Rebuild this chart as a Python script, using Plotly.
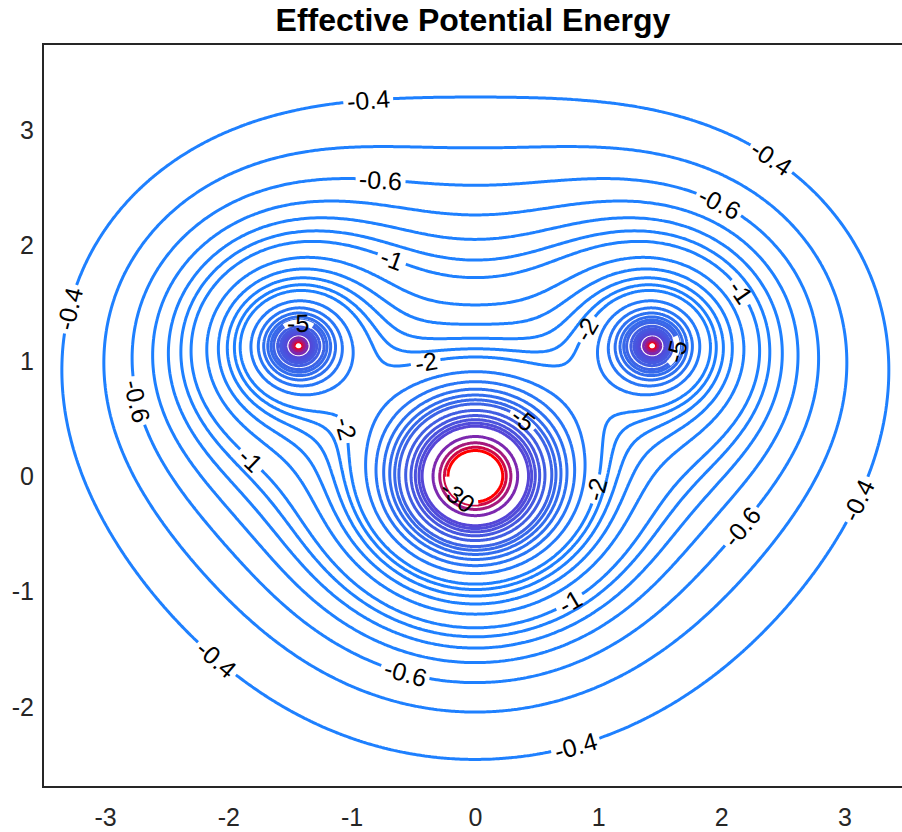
import numpy as np
import plotly.graph_objects as go

# ---------------- values ----------------
# force centres (one big centre, two small ones)
centre_x = [0.0, -1.435, 1.435]
centre_y = [0.0, 1.13, 1.13]

# points: (x, y, level)
sample_x = [0, 0, 0, 0, 0, 0, 0, 0, 0, 0, 0, 0,
            0, 0, 0, 0, 0, 0, 0,
            -3.34, -3.0, -2.77, -3.34, -3.26, 3.30,
            -0.87, 2.39, -3.24, 3.12, -2.15, 0.81,
            -0.77, 1.97, -2.72, 2.17, -0.57,
            -0.69, -1.82, 2.15, 0.75,
            -0.41, -1.09, 0.93, 1.01,
            0.22, 0.54, -1.43, 1.61]
sample_y = [3.27, 2.84, 2.52, 2.28, 2.07, 1.90, 1.74, 1.52, 1.34, 1.21, 1.12, 1.05,
            -2.43, -2.01, -1.75, -1.58, -1.46, -1.36, -1.27,
            1.14, 1.14, 1.14, 0.50, -0.06, 0.50,
            3.23, 2.74, 1.44, -0.21, -1.64, -2.33,
            2.54, 2.35, 0.66, -0.44, -1.70,
            1.85, 0.14, 1.59, -1.07,
            1.00, 0.40, 1.26, -0.12,
            0.56, 0.28, 1.33, 1.13]
sample_level = [-0.4, -0.5, -0.6, -0.7, -0.8, -0.9, -1.0, -1.2, -1.4, -1.6, -1.8, -2.0,
                -0.4, -0.5, -0.6, -0.7, -0.8, -0.9, -1.0,
                -0.4, -0.5, -0.6, -0.4, -0.4, -0.4,
                -0.4, -0.4, -0.4, -0.4, -0.4, -0.4,
                -0.6, -0.6, -0.6, -0.6, -0.6,
                -1.0, -1.0, -1.0, -1.0,
                -2.0, -2.0, -2.0, -2.0,
                -5.0, -5.0, -5.0, -5.0]

contour_levels = [-30, -25, -20, -15, -10, -9, -8, -7, -6, -5, -4.5, -4, -3.5, -3, -2.5,
                  -2, -1.8, -1.6, -1.4, -1.2, -1, -0.9, -0.8, -0.7, -0.6, -0.5, -0.4]

# contour labels as they appear in the reference (level, approximate place)
label_level = [-0.4, -0.4, -0.4, -0.4, -0.4, -0.4,
               -0.6, -0.6, -0.6, -0.6, -0.6,
               -1, -1, -1, -1,
               -2, -2, -2, -2,
               -5, -5, -5,
               -30]
label_x = [-0.868, 2.393, -3.244, 3.114, -2.149, 0.811,
           -0.771, 1.971, -2.717, 2.165, -0.568,
           -0.690, -1.825, 2.149, 0.754,
           -0.406, -1.095, 0.933, 1.014,
           0.381, -1.435, 1.598,
           -0.089]
label_y = [3.240, 2.740, 1.438, -0.208, -1.638, -2.331,
           2.539, 2.348, 0.659, -0.442, -1.699,
           1.854, 0.139, 1.594, -1.075,
           1.005, 0.399, 1.260, -0.121,
           0.485, 1.274, 1.092,
           -0.104]

x_tick_values = [-3, -2, -1, 0, 1, 2, 3]
y_tick_values = [-2, -1, 0, 1, 2, 3]
title_text = "Effective Potential Energy"

# ---------------- styles ----------------
colour_stops = [(-30, (255, 0, 0)), (-25, (205, 10, 70)), (-20, (165, 25, 125)),
                (-15, (125, 40, 175)), (-10, (85, 70, 215)), (-5, (60, 100, 230)),
                (-2, (30, 128, 255)), (-0.4, (30, 128, 255))]
FONT = "Liberation Sans, Arial, Helvetica, sans-serif"
X_RANGE = [-3.5, 3.462]
Y_RANGE = [-2.685, 3.737]
MARGIN = dict(l=44, r=0, t=45, b=46)
FIG_W, FIG_H = 902, 832
LABEL_SIZE = 25
LINE_W = 3

PX_X = (FIG_W - MARGIN["l"] - MARGIN["r"]) / (X_RANGE[1] - X_RANGE[0])
PX_Y = (FIG_H - MARGIN["t"] - MARGIN["b"]) / (Y_RANGE[1] - Y_RANGE[0])

# ---------------- screened-centre model fitted to the read points ----------------
CX = np.array(centre_x)
CY = np.array(centre_y)
SX = np.array(sample_x, float)
SY = np.array(sample_y, float)
SL = np.array(sample_level, float)


def basis(px, py, lam_big, lam_small):
    r = [np.maximum(np.hypot(px - CX[i], py - CY[i]), 1e-3) for i in range(3)]
    return np.stack([
        -1.0 / r[0],
        -np.exp(-r[0] / lam_big) / r[0],
        -(1.0 / r[1] + 1.0 / r[2]),
        -(np.exp(-r[1] / lam_small) / r[1] + np.exp(-r[2] / lam_small) / r[2]),
    ], axis=-1)


def potential(px, py, params):
    lb, ls, coef = params
    return basis(px, py, lb, ls) @ coef


lam_grid = np.geomspace(0.08, 6.0, 45)


def fit(weights):
    best = None
    for lb in lam_grid:
        for ls in lam_grid:
            A = basis(SX, SY, lb, ls) * weights[:, None]
            rhs = SL * weights
            coef, *_ = np.linalg.lstsq(A, rhs, rcond=None)
            res = float(np.sum((A @ coef - rhs) ** 2))
            if best is None or res < best[0]:
                best = (res, lb, ls, coef)
    return best[1], best[2], best[3]


params = fit(1.0 / np.abs(SL))
for _ in range(2):
    e = 1e-4
    gx = (potential(SX + e, SY, params) - potential(SX - e, SY, params)) / (2 * e)
    gy = (potential(SX, SY + e, params) - potential(SX, SY - e, params)) / (2 * e)
    params = fit(1.0 / np.maximum(np.hypot(gx, gy), 1e-6))


def V1(p):
    return float(potential(np.array([p[0]]), np.array([p[1]]), params)[0])


def G1(p):
    e = 1e-5
    return np.array([(V1(p + [e, 0]) - V1(p - [e, 0])) / (2 * e),
                     (V1(p + [0, e]) - V1(p - [0, e])) / (2 * e)])


def project(p, lev):
    p = np.array(p, float)
    for _ in range(60):
        g = G1(p)
        step = (V1(p) - lev) * g / max(g @ g, 1e-12)
        n = np.hypot(*step)
        if n > 0.04:
            step *= 0.04 / n
        p = p - step
        if n < 1e-7:
            break
    return p


def screen_tangent(p, prev=None):
    g = G1(p)
    gsx, gsy = g[0] / PX_X, -g[1] / PX_Y
    t = np.array([-gsy, gsx])
    t /= np.hypot(*t)
    if prev is not None and t @ prev < 0:
        t = -t
    return t


def contour_path(p, lev, half_px, step_px=1.0):
    sides = []
    t0 = screen_tangent(p)
    for sgn in (1, -1):
        q = p.copy()
        prev = sgn * t0
        pts = []
        for _ in range(int(half_px / step_px)):
            t = screen_tangent(q, prev)
            q = project(q + np.array([t[0] * step_px / PX_X, -t[1] * step_px / PX_Y]), lev)
            pts.append(q.copy())
            prev = t
        sides.append(pts)
    pts = sides[1][::-1] + [p] + sides[0]
    return "M " + " L ".join("%.5f,%.5f" % (a, b) for a, b in pts), t0


# ---------------- grids ----------------
def axis_coords(lo, hi, centres, hmin=0.003, hmax=0.02, grow=0.06):
    pts = [lo]
    while pts[-1] < hi:
        d = min(abs(pts[-1] - c) for c in centres)
        pts.append(pts[-1] + min(hmax, hmin + grow * d))
    return np.array(pts)


xc = np.arange(-3.56, 3.57, 0.025)
yc = np.arange(-2.76, 3.81, 0.025)
XC, YC = np.meshgrid(xc, yc)
zc = np.maximum(potential(XC, YC, params), -300)

xf = axis_coords(-3.56, 3.56, sorted(set(centre_x)))
yf = axis_coords(-2.76, 3.8, sorted(set(centre_y)))
XF, YF = np.meshgrid(xf, yf)
zf = np.maximum(potential(XF, YF, params), -300)


def colour_for(level):
    vals = [v for v, _ in colour_stops]
    rgb = [np.interp(level, vals, [c[k] for _, c in colour_stops]) for k in range(3)]
    return "rgb(%d,%d,%d)" % tuple(int(round(v)) for v in rgb)


fig = go.Figure()
for lev in contour_levels:
    if lev >= -1.0:
        xs, ys, zs = xc, yc, zc
    else:
        mask = zf < lev
        rows = np.where(mask.any(axis=1))[0]
        cols = np.where(mask.any(axis=0))[0]
        if len(rows) == 0:
            continue
        r0, r1 = max(rows[0] - 4, 0), min(rows[-1] + 5, len(yf))
        c0, c1 = max(cols[0] - 4, 0), min(cols[-1] + 5, len(xf))
        xs, ys, zs = xf[c0:c1], yf[r0:r1], zf[r0:r1, c0:c1]
    col = colour_for(lev)
    fig.add_trace(go.Contour(
        x=xs.astype(np.float32), y=ys.astype(np.float32), z=zs.astype(np.float32),
        autocontour=False,
        contours=dict(start=lev, end=lev, size=1, coloring="lines", showlabels=False),
        line=dict(width=LINE_W, smoothing=1),
        colorscale=[[0, col], [1, col]],
        showscale=False, hoverinfo="skip",
    ))

# inline contour labels: a gap in the labelled line plus the rotated value
char_w = {"-": 0.333, ".": 0.278}
shapes, annotations = [], []
for lev, lx, ly in zip(label_level, label_x, label_y):
    text = "%g" % lev
    width_px = sum(char_w.get(ch, 0.556) for ch in text) * LABEL_SIZE
    p = project([lx, ly], lev)
    path, t = contour_path(p, lev, width_px / 2 + 4)
    ang = np.degrees(np.arctan2(t[1], t[0]))
    while ang >= 80:
        ang -= 180
    while ang < -100:
        ang += 180
    shapes.append(dict(type="path", path=path, xref="x", yref="y", layer="above",
                       line=dict(color="white", width=LINE_W + 3),
                       fillcolor="rgba(0,0,0,0)"))
    annotations.append(dict(x=p[0], y=p[1], xref="x", yref="y", text=text,
                            showarrow=False, textangle=float(ang),
                            xanchor="center", yanchor="middle",
                            font=dict(size=LABEL_SIZE, family=FONT, color="black")))

fig.update_layout(
    width=FIG_W, height=FIG_H,
    margin=dict(**MARGIN, pad=0, autoexpand=False),
    paper_bgcolor="white", plot_bgcolor="white",
    showlegend=False,
    shapes=shapes, annotations=annotations,
    title=dict(text="<b>" + title_text + "</b>", x=0.5, xref="paper", xanchor="center",
               y=1 - 20 / 832, yref="container", yanchor="middle",
               font=dict(size=32, family=FONT, color="black")),
    xaxis=dict(range=X_RANGE, tickmode="array", tickvals=x_tick_values,
               ticktext=[str(v) for v in x_tick_values], automargin=False,
               showline=True, mirror=True, linecolor="#262626", linewidth=2,
               ticks="outside", ticklen=8, tickcolor="rgba(0,0,0,0)",
               showgrid=False, zeroline=False,
               tickfont=dict(size=25, family=FONT, color="#262626")),
    yaxis=dict(range=Y_RANGE, tickmode="array", tickvals=y_tick_values,
               ticktext=[str(v) for v in y_tick_values], automargin=False,
               showline=True, mirror=False, linecolor="#262626", linewidth=2,
               ticks="outside", ticklen=3, tickcolor="rgba(0,0,0,0)",
               showgrid=False, zeroline=False,
               tickfont=dict(size=25, family=FONT, color="#262626")),
)

fig.write_html("out.html",
               config={"displayModeBar": False},
               post_script="document.body.style.margin='0';"
                           "document.body.style.overflow='hidden';")
